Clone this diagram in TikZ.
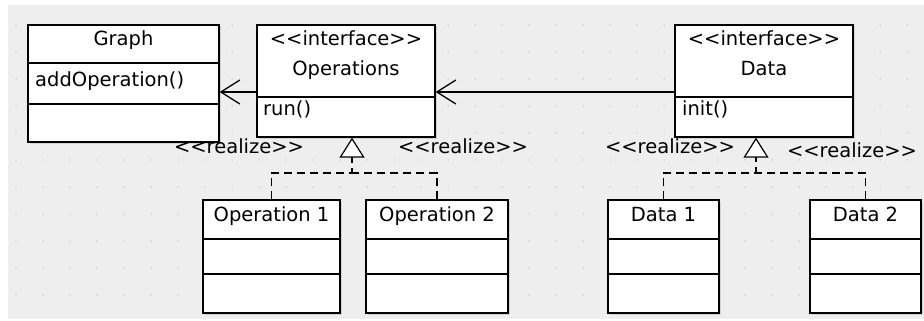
\documentclass[tikz,border=0pt]{standalone}
\usepackage{fontspec}
\setmainfont{DejaVu Sans}
\usetikzlibrary{positioning, arrows.meta, shadows}
\definecolor{canvas}{HTML}{EEEEEE}
\definecolor{griddot}{HTML}{D2D2D2}
\newcommand{\stereo}[1]{<\kern0pt<#1>\kern0pt>} % keeps << >> from turning into guillemets
\tikzset{
x=1pt, y=-1pt, % pixel units, y runs down
classbox/.style={draw, fill=white, line width=1.3pt, inner sep=0pt,
  drop shadow={shadow xshift=1.5pt, shadow yshift=-1.5pt, opacity=0.25}}, % one UML class
row/.style={line width=1.1pt}, % compartment line
txt/.style={font=\fontsize{19.5}{23}\selectfont, inner sep=0pt, anchor=base}, % all texts
assoc/.style={-{Straight Barb[length=19pt,width=24pt]}, line width=1.3pt}, % plain association
realize/.style={dash pattern=on 8pt off 5pt, line width=1.2pt}, % dashed realization
}

\begin{document}
\begin{tikzpicture}

            \useasboundingbox (0,0) rectangle (924,321);
            \fill[canvas] (8,5) rectangle (924,319);
            \foreach \gx in {16,43,...,907}
                \foreach \gy in {25,52,...,295}
                    \fill[griddot] (\gx,\gy) circle (1pt);

            % classes
            \node[classbox, minimum width=191pt, minimum height=117pt] (graph) at (123.5,83.5) {};
            \node[classbox, minimum width=178pt, minimum height=112pt] (ops) at (346,81) {};
            \node[classbox, minimum width=178pt, minimum height=112pt] (data) at (764,81) {};
            \node[classbox, minimum width=137pt, minimum height=113pt] (op1) at (271.5,256.5) {};
            \node[classbox, minimum width=142pt, minimum height=113pt] (op2) at (437,256.5) {};
            \node[classbox, minimum width=111pt, minimum height=113pt] (data1) at (663.5,256.5) {};
            \node[classbox, minimum width=111pt, minimum height=113pt] (data2) at (865.5,256.5) {};
            \foreach \b/\y in {graph/63, ops/97, data/97, op1/239, op1/274, op2/239, op2/274, data1/239, data1/274, data2/239, data2/274}
                \draw[row] (\b.west |- 0,\y) -- (\b.east |- 0,\y);
            \draw[line width=2.4pt] (graph.west |- 0,104) -- (graph.east |- 0,104);

            % texts
            \node[txt] (graphname) at (123.5,45.5) {Graph};
            \node[txt, anchor=base west] (graphop) at (35,86.5) {addOperation()};
            \node[txt] (opsstereo) at (346,46) {\stereo{interface}};
            \node[txt] (opsname) at (346,76) {Operations};
            \node[txt, anchor=base west] (opsop) at (263,115) {run()};
            \node[txt] (datastereo) at (764,46) {\stereo{interface}};
            \node[txt] (dataname) at (764,76) {Data};
            \node[txt, anchor=base west] (dataop) at (682,115) {init()};
            \node[txt] (op1name) at (271.5,221) {Operation 1};
            \node[txt] (op2name) at (437,221) {Operation 2};
            \node[txt] (data1name) at (663.5,221) {Data 1};
            \node[txt] (data2name) at (865.5,221) {Data 2};

            % associations
            \coordinate (opsend) at ([yshift=-11pt]ops.west);
            \coordinate (dataend) at ([yshift=-11pt]data.west);
            \draw[assoc] (opsend) -- (opsend -| graph.east);
            \draw[assoc] (dataend) -- (dataend -| ops.east);

            % realizations
            \coordinate (opsjoin) at (352,173);
            \coordinate (datajoin) at (756,173);
            \draw[realize, -{Triangle[length=20pt,width=25pt,fill=white]}] (op1.north) |- (opsjoin) -- (opsjoin |- ops.south);
            \draw[realize] (op2.north) |- (opsjoin);
            \draw[realize, -{Triangle[length=20pt,width=25pt,fill=white]}] (data1.north) |- (datajoin) -- (datajoin |- data.south);
            \draw[realize] (data2.north) |- (datajoin);
            \node[txt] (real1) at (239,153.5) {\stereo{realize}};
            \node[txt] (real2) at (463,153.5) {\stereo{realize}};
            \node[txt] (real3) at (670,153.5) {\stereo{realize}};
            \node[txt] (real4) at (852,157) {\stereo{realize}};
        \end{tikzpicture}
\end{document}
